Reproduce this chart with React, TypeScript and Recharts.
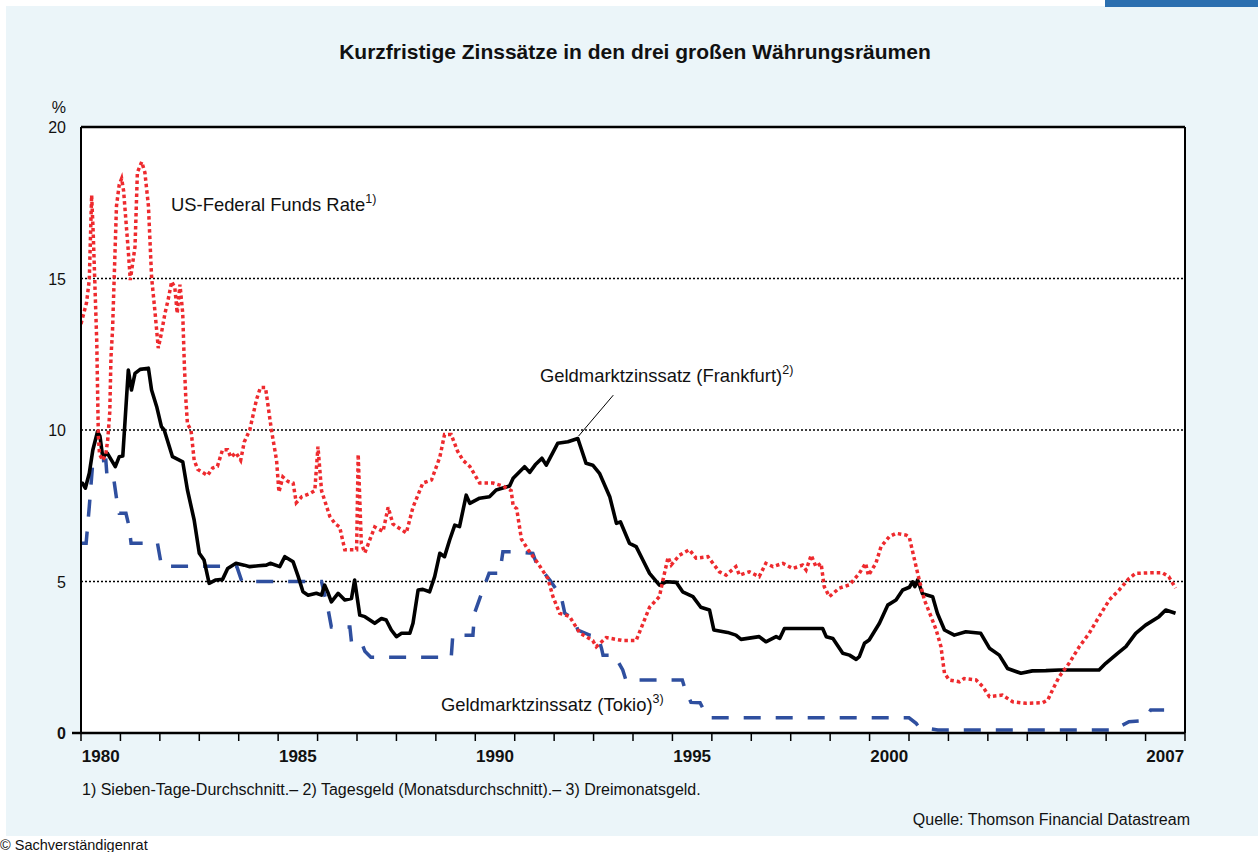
import React from 'react';
import { LineChart, Line, XAxis, YAxis, CartesianGrid, ReferenceLine } from 'recharts';

// US-Federal Funds Rate (7-day average), [year, %]
const fedFunds: [number, number][] = [
  [1980.0, 13.5], [1980.14, 14.2], [1980.21, 14.95], [1980.27, 17.75], [1980.31, 16.5], [1980.35, 14.9],
  [1980.4, 12.9], [1980.44, 9.8], [1980.47, 9.2], [1980.55, 9.0], [1980.63, 9.2], [1980.68, 9.7],
  [1980.73, 10.6], [1980.76, 12.4], [1980.8, 13.3], [1980.9, 17.4], [1980.97, 18.1], [1981.03, 18.3],
  [1981.08, 17.9], [1981.2, 15.9], [1981.25, 14.95], [1981.37, 16.05], [1981.43, 18.5], [1981.54, 18.85],
  [1981.62, 18.5], [1981.71, 17.4], [1981.79, 15.05], [1981.88, 13.85], [1981.96, 12.7], [1982.04, 13.2],
  [1982.13, 13.85], [1982.21, 14.3], [1982.3, 14.9], [1982.38, 14.7], [1982.44, 13.85], [1982.51, 14.8],
  [1982.58, 13.85], [1982.62, 12.2], [1982.66, 11.0], [1982.7, 10.2], [1982.79, 10.0], [1982.87, 9.0],
  [1982.96, 8.7], [1983.21, 8.5], [1983.34, 8.75], [1983.46, 8.8], [1983.59, 9.35], [1983.72, 9.35],
  [1983.8, 9.1], [1983.93, 9.25], [1984.05, 9.0], [1984.14, 9.6], [1984.28, 10.0], [1984.45, 11.0],
  [1984.55, 11.4], [1984.68, 11.4], [1984.83, 10.0], [1984.96, 9.0], [1985.02, 7.95], [1985.12, 8.45],
  [1985.25, 8.3], [1985.38, 8.25], [1985.46, 7.6], [1985.6, 7.8], [1985.8, 7.9], [1985.93, 8.0],
  [1986.01, 9.45], [1986.1, 8.0], [1986.31, 7.15], [1986.45, 6.9], [1986.56, 6.8], [1986.69, 6.05],
  [1986.99, 6.05], [1987.03, 9.2], [1987.11, 6.25], [1987.2, 5.95], [1987.45, 6.8], [1987.66, 6.65],
  [1987.79, 7.45], [1987.91, 6.9], [1988.25, 6.6], [1988.42, 7.45], [1988.67, 8.25], [1988.89, 8.35],
  [1989.1, 9.1], [1989.22, 9.85], [1989.39, 9.85], [1989.55, 9.3], [1989.69, 9.0], [1989.86, 8.8],
  [1990.11, 8.25], [1990.45, 8.25], [1990.7, 8.15], [1990.91, 8.0], [1990.96, 7.5], [1991.05, 7.4],
  [1991.17, 6.4], [1991.34, 6.05], [1991.59, 5.6], [1991.84, 5.1], [1991.97, 4.5], [1992.14, 3.95],
  [1992.39, 3.85], [1992.65, 3.3], [1992.98, 3.05], [1993.07, 2.85], [1993.32, 3.15], [1993.74, 3.05],
  [1994.08, 3.05], [1994.42, 4.15], [1994.67, 4.5], [1994.76, 5.05], [1994.89, 5.8], [1994.97, 5.55],
  [1995.18, 5.87], [1995.43, 6.05], [1995.6, 5.77], [1995.9, 5.82], [1996.19, 5.32], [1996.36, 5.21],
  [1996.61, 5.49], [1996.7, 5.21], [1996.95, 5.32], [1997.2, 5.16], [1997.37, 5.6], [1997.55, 5.49],
  [1997.8, 5.6], [1998.05, 5.43], [1998.3, 5.54], [1998.39, 5.38], [1998.52, 5.87], [1998.64, 5.49],
  [1998.77, 5.6], [1998.85, 4.83], [1998.98, 4.5], [1999.23, 4.78], [1999.49, 4.89], [1999.74, 5.27],
  [1999.9, 5.6], [1999.97, 5.2], [2000.16, 5.6], [2000.29, 6.15], [2000.5, 6.48], [2000.67, 6.59],
  [2000.93, 6.53], [2001.01, 6.45], [2001.18, 5.49], [2001.26, 5.05], [2001.39, 4.39], [2001.56, 3.84],
  [2001.69, 3.4], [2001.81, 2.85], [2001.9, 1.97], [2002.02, 1.75], [2002.28, 1.69], [2002.4, 1.8],
  [2002.7, 1.75], [2002.87, 1.53], [2003.04, 1.2], [2003.37, 1.25], [2003.63, 1.03], [2003.97, 0.98],
  [2004.39, 1.0], [2004.52, 1.09], [2004.64, 1.42], [2004.81, 1.86], [2005.06, 2.3], [2005.32, 2.85],
  [2005.57, 3.29], [2005.82, 3.84], [2006.08, 4.39], [2006.33, 4.72], [2006.58, 5.1], [2006.75, 5.27],
  [2007.17, 5.29], [2007.42, 5.29], [2007.59, 5.16], [2007.76, 4.78],
];

// Geldmarktzinssatz Frankfurt (Tagesgeld)
const frankfurt: [number, number][] = [
  [1980.0, 8.25], [1980.04, 8.24], [1980.11, 8.08], [1980.21, 8.57], [1980.3, 9.34], [1980.42, 9.95],
  [1980.48, 9.8], [1980.55, 9.12], [1980.67, 9.23], [1980.87, 8.79], [1980.97, 9.12], [1981.06, 9.14],
  [1981.2, 11.98], [1981.28, 11.32], [1981.37, 11.87], [1981.5, 12.0], [1981.71, 12.04], [1981.79, 11.32],
  [1981.92, 10.77], [1982.04, 10.11], [1982.11, 10.0], [1982.32, 9.12], [1982.58, 8.95], [1982.7, 8.02],
  [1982.87, 7.03], [1983.0, 5.93], [1983.12, 5.71], [1983.25, 4.94], [1983.42, 5.05], [1983.59, 5.07],
  [1983.72, 5.43], [1983.93, 5.6], [1984.14, 5.54], [1984.28, 5.49], [1984.5, 5.52], [1984.7, 5.54],
  [1984.8, 5.6], [1985.04, 5.49], [1985.17, 5.82], [1985.38, 5.65], [1985.51, 5.16], [1985.63, 4.66],
  [1985.76, 4.55], [1985.97, 4.61], [1986.1, 4.55], [1986.18, 4.88], [1986.27, 4.61], [1986.35, 4.33],
  [1986.52, 4.61], [1986.69, 4.39], [1986.86, 4.44], [1986.94, 5.05], [1987.07, 3.89], [1987.2, 3.84],
  [1987.45, 3.62], [1987.62, 3.78], [1987.74, 3.73], [1987.87, 3.4], [1988.0, 3.18], [1988.13, 3.29],
  [1988.34, 3.29], [1988.42, 3.62], [1988.55, 4.72], [1988.67, 4.74], [1988.84, 4.66], [1988.97, 5.16],
  [1989.1, 5.93], [1989.22, 5.82], [1989.35, 6.37], [1989.48, 6.86], [1989.6, 6.81], [1989.77, 7.85],
  [1989.86, 7.58], [1990.11, 7.75], [1990.36, 7.8], [1990.53, 8.02], [1990.87, 8.15], [1990.96, 8.41],
  [1991.25, 8.79], [1991.38, 8.6], [1991.52, 8.85], [1991.69, 9.07], [1991.8, 8.84], [1992.09, 9.56],
  [1992.35, 9.61], [1992.6, 9.72], [1992.81, 8.9], [1992.98, 8.84], [1993.15, 8.57], [1993.41, 7.8],
  [1993.58, 6.92], [1993.68, 6.97], [1993.91, 6.26], [1994.08, 6.15], [1994.25, 5.71], [1994.42, 5.27],
  [1994.67, 4.88], [1994.84, 4.99], [1995.1, 4.97], [1995.26, 4.66], [1995.52, 4.5], [1995.72, 4.15],
  [1995.94, 4.06], [1996.05, 3.4], [1996.4, 3.32], [1996.61, 3.23], [1996.74, 3.09], [1997.2, 3.18],
  [1997.37, 3.01], [1997.63, 3.18], [1997.72, 3.12], [1997.84, 3.45], [1998.3, 3.45], [1998.81, 3.45],
  [1998.9, 3.18], [1999.07, 3.12], [1999.32, 2.63], [1999.49, 2.57], [1999.66, 2.43], [1999.74, 2.52],
  [1999.87, 2.96], [1999.99, 3.07], [2000.25, 3.62], [2000.46, 4.22], [2000.67, 4.39], [2000.84, 4.72],
  [2001.01, 4.81], [2001.09, 4.99], [2001.15, 4.83], [2001.22, 5.05], [2001.34, 4.6], [2001.6, 4.5],
  [2001.72, 3.95], [2001.9, 3.4], [2002.15, 3.23], [2002.44, 3.34], [2002.82, 3.29], [2003.04, 2.8],
  [2003.29, 2.57], [2003.5, 2.13], [2003.84, 1.97], [2004.13, 2.05], [2004.47, 2.06], [2004.81, 2.08],
  [2005.32, 2.08], [2005.82, 2.08], [2005.99, 2.3], [2006.29, 2.63], [2006.5, 2.85], [2006.75, 3.29],
  [2007.0, 3.56], [2007.34, 3.84], [2007.51, 4.06], [2007.76, 3.95],
];

// Geldmarktzinssatz Tokio (Dreimonatsgeld)
const tokio: [number, number][] = [
  [1980.0, 6.26], [1980.13, 6.26], [1980.21, 7.47], [1980.3, 8.95], [1980.63, 9.0], [1980.67, 8.3],
  [1980.84, 8.3], [1980.93, 7.47], [1980.97, 7.25], [1981.14, 7.25], [1981.22, 6.81], [1981.27, 6.26],
  [1981.94, 6.26], [1982.03, 5.6], [1982.07, 5.5], [1983.95, 5.5], [1984.08, 5.0], [1986.1, 5.0],
  [1986.27, 4.06], [1986.35, 3.5], [1986.82, 3.5], [1986.86, 3.0], [1987.11, 3.0], [1987.2, 2.7],
  [1987.35, 2.5], [1989.39, 2.5], [1989.43, 3.23], [1989.94, 3.23], [1989.98, 3.95], [1990.19, 4.72],
  [1990.35, 5.27], [1990.62, 5.27], [1990.7, 5.98], [1991.04, 5.98], [1991.46, 5.93], [1991.55, 5.6],
  [1991.89, 5.05], [1992.18, 4.5], [1992.27, 3.95], [1992.52, 3.73], [1992.6, 3.4], [1992.9, 3.23],
  [1993.11, 3.18], [1993.2, 2.8], [1993.24, 2.57], [1993.53, 2.57], [1993.74, 2.08], [1993.82, 1.75],
  [1995.25, 1.75], [1995.32, 1.45], [1995.47, 1.01], [1995.7, 1.0], [1995.8, 0.75], [1995.94, 0.5],
  [2001.0, 0.5], [2001.18, 0.32], [2001.25, 0.2], [2001.73, 0.1], [2006.2, 0.1], [2006.4, 0.25],
  [2006.58, 0.37], [2006.88, 0.4], [2007.05, 0.6], [2007.13, 0.76], [2007.47, 0.76],
];

const yearTicks = Array.from({ length: 29 }, (_, i) => 1980 + i);
const labelYears = [1980, 1985, 1990, 1995, 2000, 2007];
const yTicks = [0, 5, 10, 15, 20];

const FONT = '"Liberation Sans", Arial, Helvetica, sans-serif';
const PLOT_LEFT = 81;
const PLOT_RIGHT = 1185;
const HALF_YEAR = (PLOT_RIGHT - PLOT_LEFT) / 28 / 2;

const toRows = (pts: [number, number][]) => pts.map(([t, v]) => ({ t, v }));

const XTick = (props: any) => {
  const { x, payload } = props;
  if (!labelYears.includes(payload.value)) return null;
  return (
    <text x={x + HALF_YEAR} y={762} textAnchor="middle" fontSize={17} fontWeight={700} fontFamily={FONT} fill="#111">
      {payload.value}
    </text>
  );
};

const YTick = (props: any) => {
  const { y, payload, side } = props;
  const v = payload.value;
  const tx = side === 'l' ? 66 : 1218;
  return (
    <g>
      {v === 0 && (
        <line x1={side === 'l' ? 72 : PLOT_RIGHT} x2={side === 'l' ? PLOT_LEFT : 1193} y1={y} y2={y} stroke="#000" strokeWidth={2.5} />
      )}
      {v === 20 && (
        <text x={tx} y={y - 14} textAnchor="end" fontSize={16} fontFamily={FONT} fill="#111">%</text>
      )}
      <text x={tx} y={y + 6} textAnchor="end" fontSize={16} fontWeight={v === 0 ? 700 : 400} fontFamily={FONT} fill="#111">
        {v}
      </text>
    </g>
  );
};

const Sup: React.FC<{ children: React.ReactNode }> = ({ children }) => (
  <span style={{ fontSize: 12.5, position: 'relative', top: -8 }}>{children}</span>
);

const App: React.FC = () => {
  return (
    <div style={{ position: 'relative', width: 1258, height: 852, background: '#fff', fontFamily: FONT, color: '#111', overflow: 'hidden' }}>
      <style>{'body{margin:0}'}</style>
      <div style={{ position: 'absolute', left: 6, top: 6, width: 1252, height: 830, background: '#ebf5f9' }} />
      <div style={{ position: 'absolute', left: 1105, top: 0, width: 153, height: 7, background: '#2b6fb0' }} />

      <div style={{ position: 'absolute', left: 12, right: 0, top: 40, textAlign: 'center', fontSize: 21, fontWeight: 700, lineHeight: '24px' }}>
        Kurzfristige Zinssätze in den drei großen Währungsräumen
      </div>

      <div style={{ position: 'absolute', left: 0, top: 0 }}>
        <LineChart width={1258} height={852} margin={{ top: 127, right: 33, bottom: 89, left: 41 }}>
          <CartesianGrid yAxisId="l" vertical={false} stroke="#000" strokeWidth={1.5} strokeDasharray="2 2" fill="#fff" fillOpacity={1} />
          <XAxis
            dataKey="t"
            type="number"
            domain={[1980, 2008]}
            ticks={yearTicks}
            allowDataOverflow
            height={30}
            interval={0}
            axisLine={{ stroke: '#000', strokeWidth: 2.5 }}
            tickLine={{ stroke: '#000', strokeWidth: 1.5 }}
            tickSize={8}
            tick={<XTick />}
          />
          <YAxis
            yAxisId="l"
            orientation="left"
            domain={[0, 20]}
            ticks={yTicks}
            width={40}
            axisLine={{ stroke: '#000', strokeWidth: 2 }}
            tickLine={false}
            tick={<YTick side="l" />}
          />
          <YAxis
            yAxisId="r"
            orientation="right"
            domain={[0, 20]}
            ticks={yTicks}
            width={40}
            axisLine={{ stroke: '#000', strokeWidth: 2 }}
            tickLine={false}
            tick={<YTick side="r" />}
          />
          <ReferenceLine yAxisId="l" y={20} stroke="#000" strokeWidth={2.5} />
          <ReferenceLine
            yAxisId="l"
            segment={[{ x: 1992.62, y: 9.8 }, { x: 1993.5, y: 11.15 }]}
            stroke="#000"
            strokeWidth={1}
          />
          <Line
            yAxisId="l"
            data={toRows(tokio)}
            dataKey="v"
            type="linear"
            stroke="#2f4f9f"
            strokeWidth={3.5}
            strokeDasharray="17 15"
            dot={false}
            isAnimationActive={false}
          />
          <Line
            yAxisId="l"
            data={toRows(frankfurt)}
            dataKey="v"
            type="linear"
            stroke="#000"
            strokeWidth={3.6}
            strokeLinejoin="round"
            dot={false}
            isAnimationActive={false}
          />
          <Line
            yAxisId="l"
            data={toRows(fedFunds)}
            dataKey="v"
            type="linear"
            stroke="#ee2a2e"
            strokeWidth={3.5}
            strokeDasharray="3.5 3"
            dot={false}
            isAnimationActive={false}
          />
        </LineChart>
      </div>

      <div style={{ position: 'absolute', left: 171, top: 194, fontSize: 18.4, lineHeight: '22px', whiteSpace: 'nowrap' }}>
        US-Federal Funds Rate<Sup>1)</Sup>
      </div>
      <div style={{ position: 'absolute', left: 540, top: 365, fontSize: 18.4, lineHeight: '22px', whiteSpace: 'nowrap' }}>
        Geldmarktzinssatz (Frankfurt)<Sup>2)</Sup>
      </div>
      <div style={{ position: 'absolute', left: 441, top: 694, fontSize: 18.4, lineHeight: '22px', whiteSpace: 'nowrap' }}>
        Geldmarktzinssatz (Tokio)<Sup>3)</Sup>
      </div>

      <div style={{ position: 'absolute', left: 82, top: 780, fontSize: 16, lineHeight: '20px', whiteSpace: 'nowrap' }}>
        1) Sieben-Tage-Durchschnitt.– 2) Tagesgeld (Monatsdurchschnitt).– 3) Dreimonatsgeld.
      </div>
      <div style={{ position: 'absolute', right: 68, top: 810, fontSize: 16, lineHeight: '20px', whiteSpace: 'nowrap' }}>
        Quelle: Thomson Financial Datastream
      </div>
      <div style={{ position: 'absolute', left: 0, top: 837, fontSize: 14.5, lineHeight: '16px', whiteSpace: 'nowrap' }}>
        © Sachverständigenrat
      </div>
    </div>
  );
};

export default App;
